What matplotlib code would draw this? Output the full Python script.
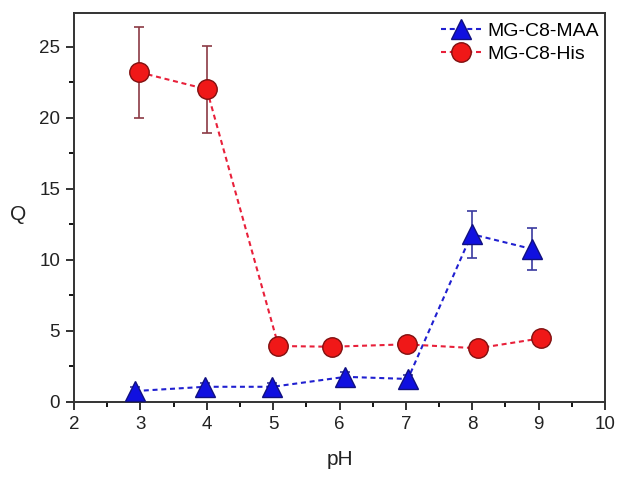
import matplotlib
matplotlib.use("Agg")
import matplotlib.pyplot as plt
from matplotlib.ticker import MultipleLocator

plt.rcParams['font.family'] = ['Liberation Sans', 'DejaVu Sans']

# Data
ph_maa = [2.92, 3.98, 4.99, 6.09, 7.03, 7.99, 8.9]
q_maa = [0.75, 1.05, 1.05, 1.75, 1.6, 11.8, 10.75]
err_maa = [0.25, 0.3, 0.3, 0.35, 0.3, 1.65, 1.5]

ph_his = [2.98, 4.0, 5.08, 5.88, 7.01, 8.08, 9.03]
q_his = [23.2, 22.0, 3.92, 3.87, 4.04, 3.76, 4.46]
err_his = [3.2, 3.05, 0.0, 0.0, 0.0, 0.0, 0.0]

xticks = [2, 3, 4, 5, 6, 7, 8, 9, 10]
yticks = [0, 5, 10, 15, 20, 25]

fig = plt.figure(figsize=(6.24, 4.79), dpi=100)
ax = fig.add_axes([0.1186, 0.1614, 0.8510, 0.8108])

dash = (0, (2.4, 1.8))

# error bars
ax.errorbar(ph_maa, q_maa, yerr=err_maa, fmt='none', ecolor='#3a3aa0',
            elinewidth=1.2, capsize=3.3, capthick=1.2, zorder=2)
ax.errorbar(ph_his, q_his, yerr=err_his, fmt='none', ecolor='#8b3a44',
            elinewidth=1.2, capsize=3.3, capthick=1.2, zorder=2)

# lines + markers
ax.plot(ph_maa, q_maa, linestyle=dash, color='#2020d0', linewidth=1.5,
        marker='^', markersize=15, markerfacecolor='#1010e0',
        markeredgecolor='#101080', markeredgewidth=1.0,
        label='MG-C8-MAA', zorder=3)
ax.plot(ph_his, q_his, linestyle=dash, color='#e8203a', linewidth=1.5,
        marker='o', markersize=14, markerfacecolor='#f01818',
        markeredgecolor='#801010', markeredgewidth=1.0,
        label='MG-C8-His', zorder=3)

ax.set_xlim(2, 10)
ax.set_ylim(0, 27.35)
ax.set_xticks(xticks)
ax.set_yticks(yticks)
ax.xaxis.set_minor_locator(MultipleLocator(0.5))
ax.yaxis.set_minor_locator(MultipleLocator(2.5))
ax.tick_params(which='major', direction='out', length=6, width=1.3, labelsize=13.5,
               colors='#222222', top=False, right=False, pad=4)
ax.tick_params(which='minor', direction='out', length=3.5, width=1.3, top=False, right=False)
for s in ax.spines.values():
    s.set_linewidth(1.4)
    s.set_color('#333333')

ax.set_xlabel('pH', fontsize=15, color='#222222', va='baseline')
ax.xaxis.set_label_coords(0.5, -0.163)
ax.set_ylabel('Q', fontsize=15, color='#222222', rotation=0, va='center')
ax.yaxis.set_label_coords(-0.1045, 0.483)

leg = ax.legend(loc='upper right', bbox_to_anchor=(1.006, 1.0), frameon=False,
                fontsize=14, handlelength=2.1, handletextpad=0.3,
                borderaxespad=0.28, labelspacing=0.27, borderpad=0.2)

fig.savefig('out.png', dpi=100)
